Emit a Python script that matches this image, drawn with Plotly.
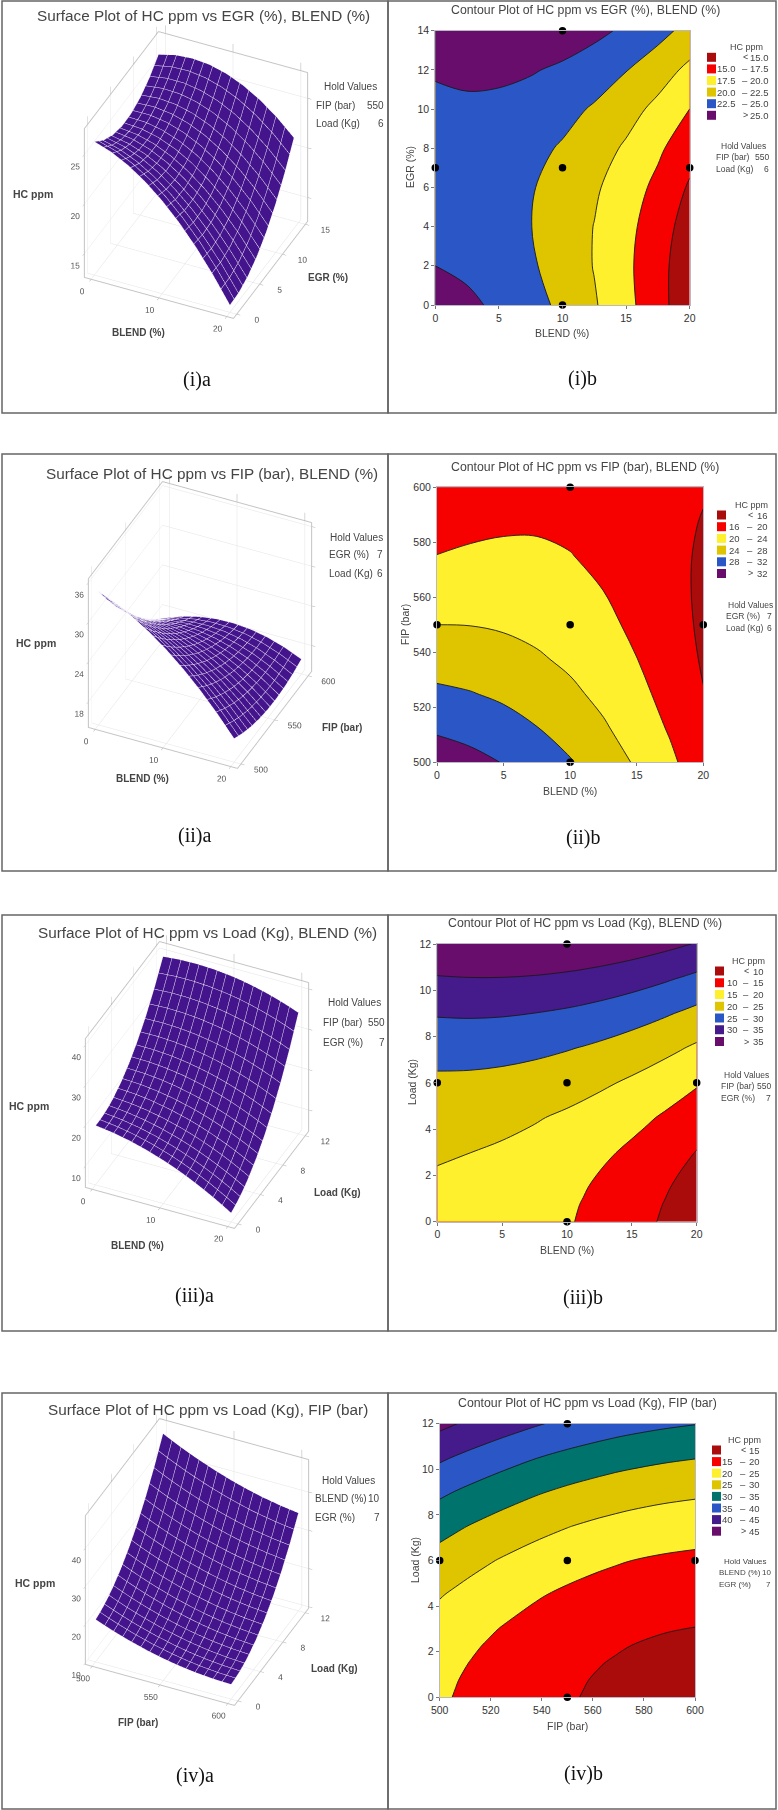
import plotly.graph_objects as go
import numpy as np

W = 778
H = 1810

# values
blend = [0, 2.5, 5, 7.5, 10, 12.5, 15, 17.5, 20]
blend_iii = [0, 2.5, 5, 7.5, 10, 11.25, 12.5, 13.75, 15, 16.25, 17.5, 18.75, 20]
egr = [0, 2, 4, 6, 8, 10, 12, 14]
fip = [500, 512.5, 525, 537.5, 550, 562.5, 575, 587.5, 600]
fip_iv = [500, 506.25, 512.5, 518.75, 525, 537.5, 550, 556.25, 562.5, 568.75, 575, 587.5, 600]
load = [0, 0.75, 1.5, 2.25, 3, 4.5, 6, 7.5, 9, 10.5, 12]

# rows = EGR, columns = BLEND
hc_i = [
    [26.05, 25.46, 24.58, 23.41, 21.96, 20.23, 18.21, 15.90, 13.31],
    [25.00, 24.55, 23.82, 22.80, 21.49, 19.90, 18.02, 15.86, 13.41],
    [24.32, 24.01, 23.42, 22.54, 21.38, 19.94, 18.21, 16.19, 13.89],
    [23.99, 23.83, 23.39, 22.66, 21.64, 20.34, 18.75, 16.88, 14.72],
    [24.04, 24.03, 23.73, 23.14, 22.27, 21.11, 19.67, 17.94, 15.92],
    [24.45, 24.58, 24.42, 23.98, 23.25, 22.24, 20.94, 19.36, 17.49],
    [25.23, 25.50, 25.49, 25.19, 24.61, 23.74, 22.59, 21.15, 19.42],
    [26.37, 26.79, 26.92, 26.77, 26.33, 25.60, 24.59, 23.30, 21.72],
]
# rows = BLEND, columns = FIP
hc_ii = [
    [34.26, 31.39, 28.73, 26.26, 24.00, 21.94, 20.07, 18.41, 16.94],
    [33.20, 30.58, 28.17, 25.95, 23.94, 22.13, 20.51, 19.10, 17.88],
    [31.85, 29.48, 27.32, 25.35, 23.59, 22.03, 20.66, 19.50, 18.53],
    [30.21, 28.09, 26.18, 24.46, 22.95, 21.64, 20.52, 19.61, 18.89],
    [28.28, 26.41, 24.75, 23.28, 22.02, 20.96, 20.09, 19.43, 18.96],
    [26.06, 24.44, 23.03, 21.81, 20.80, 19.99, 19.37, 18.96, 18.74],
    [23.55, 22.18, 21.02, 20.05, 19.29, 18.73, 18.36, 18.20, 18.23],
    [20.74, 19.62, 18.71, 17.99, 17.48, 17.17, 17.05, 17.14, 17.42],
    [17.65, 16.78, 16.12, 15.65, 15.39, 15.33, 15.46, 15.80, 16.33],
]
# rows = BLEND, columns = Load
hc_iii = [
    [19.41, 19.40, 19.56, 19.89, 20.38, 21.87, 24.04, 26.88, 30.38, 34.57, 39.42],
    [18.82, 18.87, 19.09, 19.48, 20.03, 21.65, 23.93, 26.89, 30.52, 34.82, 39.80],
    [17.95, 18.06, 18.34, 18.79, 19.41, 21.14, 23.55, 26.63, 30.38, 34.80, 39.90],
    [16.80, 16.98, 17.32, 17.83, 18.50, 20.36, 22.89, 26.09, 29.96, 34.51, 39.73],
    [15.38, 15.62, 16.02, 16.59, 17.33, 19.30, 21.95, 25.28, 29.27, 33.94, 39.28],
    [14.57, 14.83, 15.26, 15.86, 16.63, 18.67, 21.38, 24.77, 28.82, 33.55, 38.95],
    [13.69, 13.98, 14.44, 15.07, 15.87, 17.97, 20.74, 24.19, 28.30, 33.09, 38.55],
    [12.74, 13.06, 13.55, 14.21, 15.04, 17.20, 20.04, 23.54, 27.72, 32.56, 38.08],
    [11.71, 12.07, 12.59, 13.28, 14.14, 16.36, 19.26, 22.82, 27.06, 31.97, 37.55],
    [10.62, 11.01, 11.56, 12.28, 13.17, 15.46, 18.41, 22.04, 26.33, 31.30, 36.94],
    [9.47, 9.88, 10.46, 11.22, 12.14, 14.48, 17.49, 21.18, 25.54, 30.57, 36.27],
    [8.24, 8.68, 9.30, 10.08, 11.03, 13.43, 16.51, 20.26, 24.67, 29.77, 35.53],
    [6.94, 7.42, 8.06, 8.87, 9.85, 12.32, 15.45, 19.26, 23.74, 28.89, 34.72],
]
# rows = FIP, columns = Load
hc_iv = [
    [20.67, 21.03, 21.56, 22.24, 23.10, 25.30, 28.16, 31.69, 35.87, 40.71, 46.21],
    [19.81, 20.15, 20.67, 21.34, 22.18, 24.35, 27.18, 30.68, 34.83, 39.64, 45.11],
    [19.00, 19.33, 19.83, 20.48, 21.31, 23.45, 26.25, 29.72, 33.84, 38.62, 44.06],
    [18.26, 18.58, 19.06, 19.70, 20.51, 22.62, 25.40, 28.83, 32.92, 37.67, 43.08],
    [17.56, 17.86, 18.33, 18.96, 19.75, 21.84, 24.58, 27.98, 32.05, 36.77, 42.15],
    [16.33, 16.60, 17.04, 17.64, 18.40, 20.43, 23.11, 26.45, 30.46, 35.12, 40.44],
    [15.32, 15.56, 15.97, 16.54, 17.27, 19.24, 21.86, 25.15, 29.09, 33.69, 38.95],
    [14.90, 15.13, 15.52, 16.07, 16.79, 18.73, 21.32, 24.58, 28.49, 33.07, 38.30],
    [14.52, 14.73, 15.11, 15.65, 16.36, 18.26, 20.83, 24.05, 27.94, 32.48, 37.68],
    [14.21, 14.41, 14.77, 15.29, 15.99, 17.86, 20.40, 23.59, 27.45, 31.91, 37.13],
    [13.94, 14.12, 14.47, 14.98, 15.66, 17.50, 20.01, 23.17, 27.00, 31.48, 36.62],
    [13.58, 13.73, 14.05, 14.53, 15.18, 16.97, 19.41, 22.52, 26.28, 30.71, 35.79],
    [13.43, 13.55, 13.84, 14.29, 14.91, 16.64, 19.02, 22.07, 25.77, 30.14, 35.16],
]

design_blend = [10, 0, 10, 20, 10]
design_egr = [0, 7, 7, 7, 14]
design_fip = [500, 550, 550, 550, 600]
design_load = [0, 6, 6, 6, 12]
design_fip_load = [550, 500, 550, 600, 550]

levels_i = ["15.0", "17.5", "20.0", "22.5", "25.0"]
levels_ii = ["16", "20", "24", "28", "32"]
levels_iii = ["10", "15", "20", "25", "30", "35"]
levels_iv = ["15", "20", "25", "30", "35", "40", "45"]

DARKRED = "#aa0b0b"
RED = "#f70000"
YELLOW = "#fff02e"
GOLD = "#dfc500"
TEAL = "#00736d"
BLUE = "#2a56c6"
INDIGO = "#451a8b"
PURPLE = "#690d6c"
colors_i = [DARKRED, RED, YELLOW, GOLD, BLUE, PURPLE]
colors_iii = [DARKRED, RED, YELLOW, GOLD, BLUE, INDIGO, PURPLE]
colors_iv = [DARKRED, RED, YELLOW, GOLD, TEAL, BLUE, INDIGO, PURPLE]

SANS = "Liberation Sans"
SERIF = "Liberation Serif"
TXT = "#454545"
SURF = "#44148c"
MESH = "#eee9f6"

fig = go.Figure()
annotations = []
shapes = []


def note(x, y, text, size=10, font=SANS, color=TXT, anchor="center", angle=0):
    annotations.append(dict(x=x / W, y=1 - y / H, xref="paper", yref="paper", text=text,
                            showarrow=False, xanchor=anchor, yanchor="middle", textangle=angle,
                            font=dict(family=font, size=size, color=color)))


def box(x0, y0, x1, y1):
    shapes.append(dict(type="rect", xref="paper", yref="paper", x0=x0 / W, x1=x1 / W,
                       y0=1 - y0 / H, y1=1 - y1 / H, line=dict(color="#666666", width=1.5)))


def surface_panel(n, x, y, z, xticks, yticks, zticks, zrange, center, ytop=None):
    xpad = (x[-1] - x[0]) * 0.05
    ypad = (y[-1] - y[0]) * 0.05
    fig.add_trace(go.Surface(
        x=x, y=y, z=z, scene="scene%d" % n, showscale=False, hoverinfo="skip",
        colorscale=[[0, SURF], [1, SURF]],
        lighting=dict(ambient=1, diffuse=0, specular=0, fresnel=0),
        contours=dict(
            x=dict(show=True, start=x[0], end=x[-1], size=(x[-1] - x[0]) / 15, color=MESH, width=4),
            y=dict(show=True, start=y[0], end=y[-1], size=(y[-1] - y[0]) / 15, color=MESH, width=4),
            z=dict(show=False))))

    def ax(rng, ticks, ticklen=4):
        return dict(range=rng, tickvals=ticks, title="", showbackground=False, showspikes=False,
                    gridcolor="#e4e4e4", gridwidth=1, zeroline=False, showline=True, mirror="all",
                    linecolor="#c4c4c4", linewidth=2, ticks="outside", ticklen=ticklen, tickcolor="#b0b0b0",
                    tickangle=0, tickfont=dict(family=SANS, size=10, color="#555555"))

    half = 170
    fig.update_layout(**{"scene%d" % n: dict(
        domain=dict(x=[(center[0] - half) / W, (center[0] + half) / W],
                    y=[1 - (center[1] + half) / H, 1 - (center[1] - half) / H]),
        xaxis=ax([x[0] - xpad, x[-1] + xpad], xticks),
        yaxis=ax([y[0] - ypad, ytop if ytop else y[-1] + ypad], yticks),
        zaxis=ax(zrange, zticks, ticklen=10),
        aspectmode="manual", aspectratio=dict(x=0.965, y=1.047, z=1.094),
        camera=dict(eye=dict(x=0.333 * 2.3, y=-0.727 * 2.3, z=0.6 * 2.3),
                    center=dict(x=0, y=0, z=0),
                    projection=dict(type="orthographic")))})


def contour_panel(n, x, y, z, levels, colors, dots, rect, xticks, yticks):
    lo, hi = float(levels[0]), float(levels[-1])
    step = (hi - lo) / (len(levels) - 1)
    scale = [[i / (len(colors) - 1), c] for i, c in enumerate(colors)]
    xa = "x%d" % n
    ya = "y%d" % n
    fig.add_trace(go.Contour(
        x=x, y=y, z=z, xaxis=xa, yaxis=ya, showscale=False, hoverinfo="skip", autocontour=False,
        colorscale=scale, contours=dict(start=lo, end=hi, size=step, coloring="fill"),
        line=dict(color="#1a1a1a", width=0.9, smoothing=1)))
    fig.add_trace(go.Scatter(
        x=dots[0], y=dots[1], xaxis=xa, yaxis=ya, mode="markers", cliponaxis=False, hoverinfo="skip",
        marker=dict(color="black", size=7.5), showlegend=False))

    def ax(dom, rng, ticks, anchor):
        return dict(domain=dom, range=rng, tickvals=ticks, anchor=anchor, showgrid=False, zeroline=False,
                    showline=True, mirror=True, linecolor="#b9b9c6", linewidth=1, ticks="outside",
                    ticklen=3, tickcolor="#777777",
                    tickfont=dict(family=SANS, size=10.5, color="#333333"))

    fig.update_layout(**{
        "xaxis%d" % n: ax([rect[0] / W, rect[2] / W], [x[0], x[-1]], xticks, ya),
        "yaxis%d" % n: ax([1 - rect[3] / H, 1 - rect[1] / H], [y[0], y[-1]], yticks, xa)})


def legend(levels, colors, swatch_x, y0, dy, title_x, title_y, low_x, dash_x, high_x):
    note(title_x, title_y, "HC ppm", size=9)
    for i, c in enumerate(colors):
        y = y0 + i * dy
        shapes.append(dict(type="rect", xref="paper", yref="paper", x0=swatch_x / W, x1=(swatch_x + 9) / W,
                           y0=1 - (y - 4.5) / H, y1=1 - (y + 4.5) / H, fillcolor=c, line=dict(width=0)))
        if i == 0:
            note(dash_x, y, "&lt;", size=9)
            note(high_x, y, levels[0], size=9.5, anchor="right")
        elif i == len(colors) - 1:
            note(dash_x, y, "&gt;", size=9)
            note(high_x, y, levels[-1], size=9.5, anchor="right")
        else:
            note(low_x, y, levels[i - 1], size=9.5, anchor="right")
            note(dash_x, y, "–", size=9.5)
            note(high_x, y, levels[i], size=9.5, anchor="right")


def hold(rows, title_x, title_y, row_y, left, right, size=8.5, font=SANS):
    note(title_x, title_y, "Hold Values", size=size, font=font)
    for (name, val), y in zip(rows, row_y):
        note(left, y, name, size=size, font=font, anchor="left")
        note(right, y, val, size=size, font=font, anchor="right")


# panel frames
for top, bottom in [(1, 413), (454, 871), (915, 1331), (1393, 1809)]:
    box(2, top, 388, bottom)
    box(388, top, 776, bottom)

# surface plots
surface_panel(1, blend, egr, hc_i, [0, 10, 20], [0, 5, 10, 15], [15, 20, 25], [12.6, 27.6], (196, 175), ytop=15.5)
surface_panel(2, blend, fip, np.array(hc_ii).T, [0, 10, 20], [500, 550, 600], [18, 24, 30, 36], [14.1, 36.6], (200, 625))
surface_panel(3, blend_iii, load, np.array(hc_iii).T, [0, 10, 20], [0, 4, 8, 12], [10, 20, 30, 40], [4.7, 41.6], (197, 1085))
surface_panel(4, fip_iv, load, np.array(hc_iv).T, [500, 550, 600], [0, 4, 8, 12], [10, 20, 30, 40], [9.6, 48.5], (197, 1562))

# contour plots
contour_panel(1, blend, egr, hc_i, levels_i, colors_i, (design_blend, design_egr),
              (435.3, 30.7, 689.7, 305), [0, 5, 10, 15, 20], [0, 2, 4, 6, 8, 10, 12, 14])
contour_panel(2, blend, fip, np.array(hc_ii).T, levels_ii, colors_i, (design_blend, design_fip),
              (437, 487.3, 703.3, 762.3), [0, 5, 10, 15, 20], [500, 520, 540, 560, 580, 600])
contour_panel(3, blend_iii, load, np.array(hc_iii).T, levels_iii, colors_iii, (design_blend, design_load),
              (437.3, 944, 696.7, 1221.7), [0, 5, 10, 15, 20], [0, 2, 4, 6, 8, 10, 12])
contour_panel(4, fip_iv, load, np.array(hc_iv).T, levels_iv, colors_iv, (design_fip_load, design_load),
              (439.7, 1423.7, 695, 1697.3), [500, 520, 540, 560, 580, 600], [0, 2, 4, 6, 8, 10, 12])

# surface titles and labels
note(203, 15, "Surface Plot of HC ppm vs EGR (%), BLEND (%)", size=15.3)
note(212, 473, "Surface Plot of HC ppm vs FIP (bar), BLEND (%)", size=15.3)
note(207, 932, "Surface Plot of HC ppm vs Load (Kg), BLEND (%)", size=15.3)
note(208, 1409, "Surface Plot of HC ppm vs Load (Kg), FIP (bar)", size=15.3)
for x, y in [(33, 194), (36, 643), (29, 1106), (35, 1583)]:
    note(x, y, "<b>HC ppm</b>", size=10.5)
note(138, 332, "<b>BLEND (%)</b>", size=10)
note(142, 778, "<b>BLEND (%)</b>", size=10)
note(137, 1245, "<b>BLEND (%)</b>", size=10)
note(138, 1722, "<b>FIP (bar)</b>", size=10)
note(328, 277, "<b>EGR (%)</b>", size=10)
note(342, 727, "<b>FIP (bar)</b>", size=10)
note(337, 1192, "<b>Load (Kg)</b>", size=10)
note(334, 1668, "<b>Load (Kg)</b>", size=10)

hold([("FIP (bar)", "550"), ("Load (Kg)", "6")], 350, 87, (105, 124), 314, 386, size=10)
hold([("EGR (%)", "7"), ("Load (Kg)", "6")], 356, 537, (555, 573), 327, 385, size=10)
hold([("FIP (bar)", "550"), ("EGR (%)", "7")], 354, 1003, (1022, 1042), 321, 387, size=10)
hold([("BLEND (%)", "10"), ("EGR (%)", "7")], 348, 1480, (1498, 1517), 313, 382, size=10)

# contour titles and labels
note(585, 10, "Contour Plot of HC ppm vs EGR (%), BLEND (%)", size=12.3)
note(585, 467, "Contour Plot of HC ppm vs FIP (bar), BLEND (%)", size=12.3)
note(585, 923, "Contour Plot of HC ppm vs Load (Kg), BLEND (%)", size=12.3)
note(587, 1403, "Contour Plot of HC ppm vs Load (Kg), FIP (bar)", size=12.3)
note(562, 333, "BLEND (%)", size=10.5)
note(570, 791, "BLEND (%)", size=10.5)
note(567, 1250, "BLEND (%)", size=10.5)
note(567, 1726, "FIP (bar)", size=10.5)
note(410, 167, "EGR (%)", size=10.5, angle=-90)
note(405, 625, "FIP (bar)", size=10.5, angle=-90)
note(412, 1082, "Load (Kg)", size=10.5, angle=-90)
note(415, 1560, "Load (Kg)", size=10.5, angle=-90)

legend(levels_i, colors_i, 707, 57.3, 11.6, 746, 46.7, 738, 745, 771)
legend(levels_ii, colors_i, 717, 515, 11.7, 751, 505, 742, 750, 770)
legend(levels_iii, colors_iii, 715, 971, 11.75, 748, 961, 740, 746, 766)
legend(levels_iv, colors_iv, 712, 1450, 11.6, 744, 1440, 735, 743, 762)

hold([("FIP (bar)", "550"), ("Load (Kg)", "6")], 743, 146, (157, 169), 714, 771)
hold([("EGR (%)", "7"), ("Load (Kg)", "6")], 750, 605, (616, 628), 724, 774)
hold([("FIP (bar)", "550"), ("EGR (%)", "7")], 746, 1075, (1086, 1098), 719, 773)
hold([("BLEND (%)", "10"), ("EGR (%)", "7")], 745, 1561, (1572, 1584), 717, 773, size=8)

# captions
for x, y, t in [(197, 379, "(i)a"), (582, 378, "(i)b"), (195, 835, "(ii)a"), (583, 837, "(ii)b"),
                (195, 1295, "(iii)a"), (583, 1297, "(iii)b"), (195, 1775, "(iv)a"), (583, 1773, "(iv)b")]:
    note(x, y, t, size=20, font=SERIF, color="#111111")

fig.update_layout(width=W, height=H, margin=dict(l=0, r=0, t=0, b=0, autoexpand=False), showlegend=False,
                  paper_bgcolor="white", plot_bgcolor="white", annotations=annotations, shapes=shapes)

fig.write_html("out.html", config=dict(displayModeBar=False),
               post_script="document.body.style.margin='0';document.body.style.overflow='hidden';")
